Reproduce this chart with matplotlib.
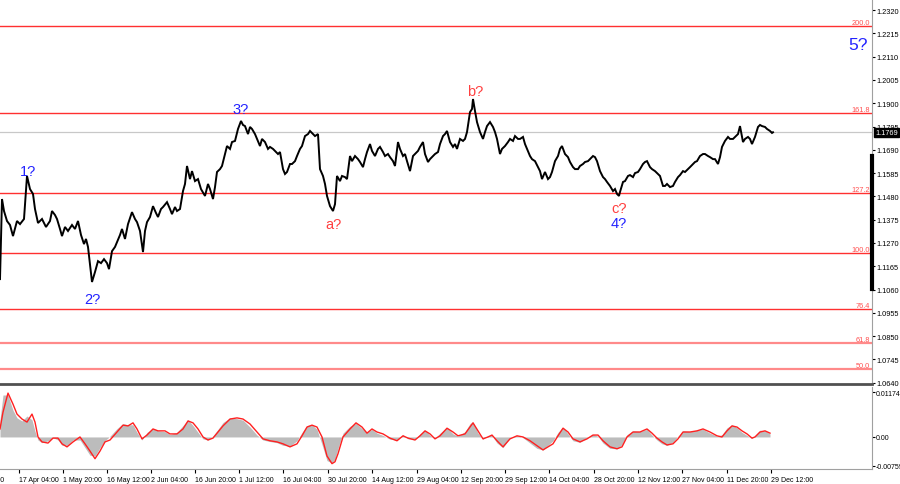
import matplotlib
matplotlib.use("Agg")
import matplotlib.pyplot as plt
import matplotlib.transforms as mtransforms

plt.rcParams['font.family'] = ['Liberation Sans', 'DejaVu Sans']

# price samples (bar position, close)
price_pos = [0, 2, 4, 7, 10, 13, 17, 20, 24, 27, 30, 33, 35, 38, 42, 46, 50, 52, 55, 57, 60, 62, 65, 68, 72, 75, 78, 81, 84, 86, 88,
             90, 92, 95, 98, 101, 104, 107, 109, 112, 115, 117, 120, 122, 125, 128, 132, 135, 137, 140, 143, 145, 147, 150, 153, 156,
             158, 161, 163, 167, 170, 172, 175, 177, 180, 183, 185, 187, 190, 192, 195, 198, 201, 205, 208, 210, 213, 215, 217, 220,
             222, 225, 227, 230, 232, 235, 238, 241, 243, 245, 248, 250, 252, 255, 257, 260, 262, 265, 268, 270, 273, 275, 278, 280,
             283, 285, 287, 290, 292, 295, 297, 300, 302, 305, 308, 310, 313, 315, 318, 320, 323, 325, 327, 330, 333, 335, 337, 340,
             342, 345, 347, 350, 352, 355, 358, 360, 363, 365, 367, 370, 372, 375, 378, 380, 383, 385, 388, 390, 393, 395, 398, 400,
             403, 405, 407, 410, 413, 415, 418, 420, 423, 425, 428, 430, 433, 435, 438, 440, 443, 445, 447, 450, 453, 455, 457, 460,
             463, 465, 467, 470, 472, 473, 475, 477, 480, 483, 485, 487, 490, 493, 495, 497, 500, 502, 505, 508, 510, 513, 515, 518,
             520, 523, 525, 527, 530, 532, 535, 538, 540, 542, 545, 548, 550, 552, 555, 558, 560, 562, 565, 568, 570, 573, 575, 578,
             580, 583, 585, 588, 590, 593, 595, 597, 600, 603, 605, 607, 610, 613, 615, 617, 619, 620, 623, 625, 628, 630, 633, 635,
             638, 640, 643, 645, 647, 650, 652, 655, 658, 660, 663, 665, 667, 670, 673, 675, 678, 680, 683, 685, 688, 690, 693, 695,
             697, 700, 703, 705, 708, 710, 713, 715, 718, 720, 722, 725, 728, 730, 733, 735, 738, 740, 743, 745, 748, 750, 752, 755,
             758, 760, 762, 765, 767, 770, 772, 773]
price = [1.1107, 1.1468, 1.1414, 1.1369, 1.1351, 1.1301, 1.1369, 1.1355, 1.1378, 1.1572, 1.1513, 1.1491, 1.1423, 1.1360, 1.1378,
         1.1342, 1.1369, 1.1414, 1.1396, 1.1378, 1.1333, 1.1301, 1.1342, 1.1324, 1.1351, 1.1333, 1.1369, 1.1306, 1.1265, 1.1288,
         1.1252, 1.1175, 1.1094, 1.1139, 1.1188, 1.1179, 1.1197, 1.1179, 1.1152, 1.1233, 1.1252, 1.1274, 1.1306, 1.1333, 1.1288,
         1.1355, 1.1409, 1.1378, 1.1364, 1.1324, 1.1229, 1.1324, 1.1364, 1.1387, 1.1436, 1.1405, 1.1387, 1.1423, 1.1432, 1.1454,
         1.1423, 1.1400, 1.1432, 1.1414, 1.1423, 1.1504, 1.1536, 1.1617, 1.1558, 1.1594, 1.1549, 1.1558, 1.1513, 1.1482, 1.1536,
         1.1513, 1.1468, 1.1522, 1.1590, 1.1603, 1.1617, 1.1671, 1.1707, 1.1694, 1.1725, 1.1730, 1.1784, 1.1820, 1.1802, 1.1797,
         1.1761, 1.1793, 1.1784, 1.1761, 1.1739, 1.1707, 1.1739, 1.1725, 1.1694, 1.1703, 1.1694, 1.1685, 1.1671, 1.1680, 1.1603,
         1.1581, 1.1590, 1.1626, 1.1626, 1.1639, 1.1662, 1.1694, 1.1707, 1.1752, 1.1761, 1.1775, 1.1761, 1.1752, 1.1761, 1.1603,
         1.1572, 1.1536, 1.1482, 1.1436, 1.1414, 1.1445, 1.1572, 1.1549, 1.1572, 1.1567, 1.1558, 1.1662, 1.1639, 1.1662, 1.1648,
         1.1635, 1.1612, 1.1648, 1.1680, 1.1716, 1.1685, 1.1662, 1.1694, 1.1703, 1.1680, 1.1662, 1.1671, 1.1657, 1.1639, 1.1617,
         1.1725, 1.1694, 1.1662, 1.1671, 1.1639, 1.1594, 1.1662, 1.1671, 1.1685, 1.1703, 1.1725, 1.1671, 1.1635, 1.1648, 1.1662,
         1.1671, 1.1680, 1.1716, 1.1752, 1.1761, 1.1775, 1.1725, 1.1703, 1.1716, 1.1694, 1.1739, 1.1730, 1.1739, 1.1770, 1.1860,
         1.1874, 1.1919, 1.1865, 1.1815, 1.1770, 1.1739, 1.1770, 1.1797, 1.1815, 1.1793, 1.1770, 1.1739, 1.1671, 1.1694, 1.1707,
         1.1725, 1.1739, 1.1730, 1.1752, 1.1739, 1.1739, 1.1748, 1.1716, 1.1694, 1.1662, 1.1648, 1.1639, 1.1612, 1.1594, 1.1558,
         1.1590, 1.1558, 1.1567, 1.1590, 1.1639, 1.1662, 1.1694, 1.1707, 1.1671, 1.1657, 1.1635, 1.1612, 1.1603, 1.1603, 1.1617,
         1.1626, 1.1635, 1.1639, 1.1648, 1.1662, 1.1657, 1.1639, 1.1594, 1.1567, 1.1558, 1.1545, 1.1527, 1.1504, 1.1513, 1.1491,
         1.1482, 1.1500, 1.1545, 1.1549, 1.1572, 1.1576, 1.1567, 1.1585, 1.1590, 1.1603, 1.1626, 1.1635, 1.1639, 1.1612, 1.1603,
         1.1594, 1.1581, 1.1572, 1.1527, 1.1527, 1.1536, 1.1522, 1.1527, 1.1545, 1.1567, 1.1576, 1.1594, 1.1590, 1.1603, 1.1612,
         1.1626, 1.1635, 1.1639, 1.1662, 1.1671, 1.1671, 1.1662, 1.1657, 1.1648, 1.1648, 1.1626, 1.1657, 1.1703, 1.1730, 1.1748,
         1.1739, 1.1739, 1.1748, 1.1761, 1.1797, 1.1725, 1.1739, 1.1748, 1.1739, 1.1716, 1.1748, 1.1793, 1.1802, 1.1797, 1.1793,
         1.1784, 1.1775, 1.1766, 1.1769]
last_price = 1.1769

# fibonacci levels
fib_names = ["200.0", "161.8", "127.2", "100.0", "76.4", "61.8", "50.0"]
fib_levels = [1.2248, 1.1856, 1.1495, 1.1225, 1.0973, 1.0820, 1.0702]

price_ticks = [1.2320, 1.2215, 1.2110, 1.2005, 1.1900, 1.1795, 1.1690, 1.1585, 1.1480, 1.1375,
               1.1270, 1.1165, 1.1060, 1.0955, 1.0850, 1.0745, 1.0640]

# wave marks: text, bar position, price, colour
waves = [("1?", 28, 1.1594, "blue"), ("2?", 92, 1.1017, "blue"), ("3?", 241, 1.1874, "blue"),
         ("a?", 333, 1.1355, "red"), ("b?", 475, 1.1955, "red"), ("c?", 619, 1.1427, "red"),
         ("4?", 619, 1.1360, "blue"), ("5?", 858, 1.2167, "blue")]

# oscillator
osc_pos = [0, 3, 8, 13, 17, 22, 27, 32, 35, 38, 42, 48, 53, 58, 62, 67, 73, 80, 85, 90, 95, 100, 105, 110, 117, 123, 128, 133,
           137, 142, 147, 153, 158, 165, 170, 177, 183, 188, 193, 198, 203, 208, 213, 218, 223, 230, 237, 243, 250, 257, 263, 270,
           277, 283, 290, 297, 302, 307, 312, 317, 322, 327, 332, 335, 338, 343, 350, 356, 362, 367, 372, 377, 383, 390, 397, 403,
           408, 415, 420, 425, 430, 435, 440, 447, 453, 458, 465, 470, 473, 478, 483, 488, 492, 497, 503, 510, 517, 523, 530, 537,
           543, 548, 553, 558, 563, 568, 573, 580, 587, 593, 598, 603, 610, 617, 622, 627, 633, 640, 647, 652, 657, 662, 667, 673,
           678, 683, 690, 697, 703, 710, 717, 722, 727, 732, 737, 742, 747, 752, 755, 760, 765, 770]
signal = [0.0021, 0.0065, 0.0115, 0.0086, 0.0060, 0.0047, 0.0039, 0.0060, 0.0039, 0.0, -0.0013, -0.0016, -0.0003, -0.0003,
          -0.0018, -0.0026, -0.0013, 0.0, -0.0018, -0.0037, -0.0057, -0.0037, -0.0013, -0.0008, 0.0013, 0.0031, 0.0029, 0.0037,
          0.0021, -0.0005, 0.0005, 0.0021, 0.0016, 0.0016, 0.0008, 0.0008, 0.0021, 0.0042, 0.0037, 0.0021, 0.0, -0.0008, -0.0003,
          0.0013, 0.0029, 0.0047, 0.0050, 0.0047, 0.0034, 0.0013, -0.0005, -0.0010, -0.0013, -0.0018, -0.0026, -0.0018, 0.0003,
          0.0026, 0.0031, 0.0026, 0.0, -0.0050, -0.0070, -0.0065, -0.0044, 0.0, 0.0021, 0.0037, 0.0026, 0.0010, 0.0021, 0.0013,
          0.0008, -0.0003, -0.0010, 0.0003, -0.0003, -0.0008, 0.0003, 0.0016, 0.0008, -0.0005, 0.0003, 0.0023, 0.0013, 0.0003,
          0.0008, 0.0026, 0.0037, 0.0016, -0.0005, 0.0, 0.0005, -0.0010, -0.0026, -0.0005, 0.0003, 0.0, -0.0010, -0.0023,
          -0.0034, -0.0026, -0.0018, 0.0003, 0.0023, 0.0013, -0.0005, -0.0013, -0.0005, 0.0005, 0.0005, -0.0010, -0.0026,
          -0.0031, -0.0026, 0.0, 0.0013, 0.0013, 0.0021, 0.0010, -0.0003, -0.0013, -0.0021, -0.0018, -0.0005, 0.0013, 0.0013,
          0.0016, 0.0021, 0.0013, 0.0003, 0.0, 0.0016, 0.0029, 0.0026, 0.0016, 0.0008, -0.0003, 0.0, 0.0013, 0.0016, 0.0010]
histogram = [0.0045, 0.0110, 0.0110, 0.0070, 0.0050, 0.0042, 0.0055, 0.0045, 0.0015, -0.0008, -0.0015, -0.0010, -0.0002,
             -0.0008, -0.0022, -0.0022, -0.0008, -0.0008, -0.0028, -0.0048, -0.0050, -0.0028, -0.0010, 0.0002, 0.0022, 0.0035,
             0.0032, 0.0032, 0.0012, -0.0008, 0.0012, 0.0022, 0.0016, 0.0014, 0.0006, 0.0012, 0.0030, 0.0045, 0.0030, 0.0012,
             -0.0005, -0.0008, 0.0003, 0.0020, 0.0038, 0.0050, 0.0048, 0.0044, 0.0026, 0.0005, -0.0008, -0.0012, -0.0015,
             -0.0022, -0.0024, -0.0010, 0.0012, 0.0030, 0.0032, 0.0020, -0.0020, -0.0062, -0.0068, -0.0058, -0.0030, 0.0010,
             0.0028, 0.0036, 0.0022, 0.0012, 0.0020, 0.0010, 0.0004, -0.0006, -0.0008, 0.0006, -0.0005, -0.0006, 0.0008,
             0.0018, 0.0004, -0.0004, 0.0010, 0.0025, 0.0008, 0.0002, 0.0014, 0.0035, 0.0040, 0.0010, -0.0006, 0.0004, 0.0004,
             -0.0016, -0.0028, -0.0002, 0.0004, -0.0002, -0.0016, -0.0030, -0.0034, -0.0022, -0.0010, 0.0012, 0.0026, 0.0008,
             -0.0010, -0.0014, -0.0002, 0.0006, 0.0002, -0.0016, -0.0030, -0.0031, -0.0020, 0.0006, 0.0016, 0.0014, 0.0020,
             0.0005, -0.0008, -0.0018, -0.0022, -0.0014, 0.0002, 0.0016, 0.0014, 0.0018, 0.0020, 0.0010, 0.0002, 0.0006, 0.0024,
             0.0032, 0.0024, 0.0012, 0.0004, -0.0004, 0.0004, 0.0018, 0.0016, 0.0008]
osc_ticks = [0.01174, 0.0, -0.00759]
osc_tick_labels = ["0.01174", "0.00", "-0.00759"]

time_pos = [-33, 19, 63, 107, 151, 195, 239, 283, 328, 372, 417, 461, 505, 549, 594, 638, 682, 727, 771]
time_labels = ["2 Apr 12:00", "17 Apr 04:00", "1 May 20:00", "16 May 12:00", "2 Jun 04:00", "16 Jun 20:00",
               "1 Jul 12:00", "16 Jul 04:00", "30 Jul 20:00", "14 Aug 12:00", "29 Aug 04:00", "12 Sep 20:00",
               "29 Sep 12:00", "14 Oct 04:00", "28 Oct 20:00", "12 Nov 12:00", "27 Nov 04:00", "11 Dec 20:00",
               "29 Dec 12:00"]

W, H = 900, 485
fig = plt.figure(figsize=(9, 4.85), dpi=100)
fig.patch.set_facecolor("white")
ax = fig.add_axes([0, (H - 385) / H, 872 / W, 385 / H])
ax2 = fig.add_axes([0, (H - 470) / H, 872 / W, 82 / H])

xmax = 872
ax.set_xlim(0, xmax)
ax.set_ylim(1.0634, 1.2370)
ax.plot(price_pos, price, color="black", lw=1.4, solid_joinstyle="miter", zorder=3)
ax.axhline(last_price, color="#c8c8c8", lw=0.9, zorder=1)

for name, lev in zip(fib_names, fib_levels):
    light = name in ("61.8", "50.0")
    c = "#ff8a8a" if light else "#ff3030"
    ax.axhline(lev, color=c, lw=1.6 if light else 1.0, zorder=2)
    ax.text(870, lev, name, color="#ff5050", fontsize=5.3, ha="right", va="bottom")

colors = {"blue": "#2323ff", "red": "#ff4040"}
for txt, xp, yp, c in waves:
    ax.text(xp, yp, txt, color=colors[c], fontsize=12.5 if txt == "5?" else 10.5, ha="center", va="center")

for s in ("top", "left"):
    ax.spines[s].set_visible(False)
ax.spines["right"].set_color("#a0a0a0")
ax.spines["bottom"].set_color("#505050")
ax.spines["bottom"].set_linewidth(2)
ax.yaxis.tick_right()
ax.set_yticks(price_ticks)
ax.set_yticklabels(["%.4f" % t for t in price_ticks])
ax.tick_params(axis="y", labelsize=5.3, length=2.5, pad=1, colors="black")
ax.set_xticks([])

trans = mtransforms.blended_transform_factory(ax.transAxes, ax.transData)
ax.plot([1.0, 1.0], [1.1662, 1.1062], transform=trans, color="black", lw=3, clip_on=False, zorder=5)
ax.text(1.004, last_price, "%.4f" % last_price, transform=trans, fontsize=5.3, color="white", va="center", ha="left",
        bbox=dict(boxstyle="square,pad=0.15", fc="black", ec="black"), zorder=6)

# oscillator panel
ax2.set_xlim(0, xmax)
ax2.set_ylim(-0.0084, 0.0131)
ax2.fill_between(osc_pos, histogram, 0, color="#bcbcbc", lw=0)
ax2.plot(osc_pos, signal, color="#ff2020", lw=1.0)
for s in ("top", "left"):
    ax2.spines[s].set_visible(False)
ax2.spines["right"].set_color("#a0a0a0")
ax2.spines["bottom"].set_color("#a0a0a0")
ax2.yaxis.tick_right()
ax2.set_yticks(osc_ticks)
ax2.set_yticklabels(osc_tick_labels)
ax2.tick_params(axis="y", labelsize=5, length=2, pad=1)
ax2.set_xticks(time_pos[1:])
ax2.set_xticklabels(time_labels[1:])
ax2.tick_params(axis="x", labelsize=5.0, length=3, pad=2)
for lbl in ax2.get_xticklabels():
    lbl.set_horizontalalignment("left")
ax2.text(time_pos[0] + 1, -0.0084, time_labels[0], fontsize=5.0, ha="left", va="top",
         transform=ax2.transData + mtransforms.ScaledTranslation(0, -5 / 72, fig.dpi_scale_trans), clip_on=False)

fig.savefig("out.png", dpi=100)
plt.close(fig)
